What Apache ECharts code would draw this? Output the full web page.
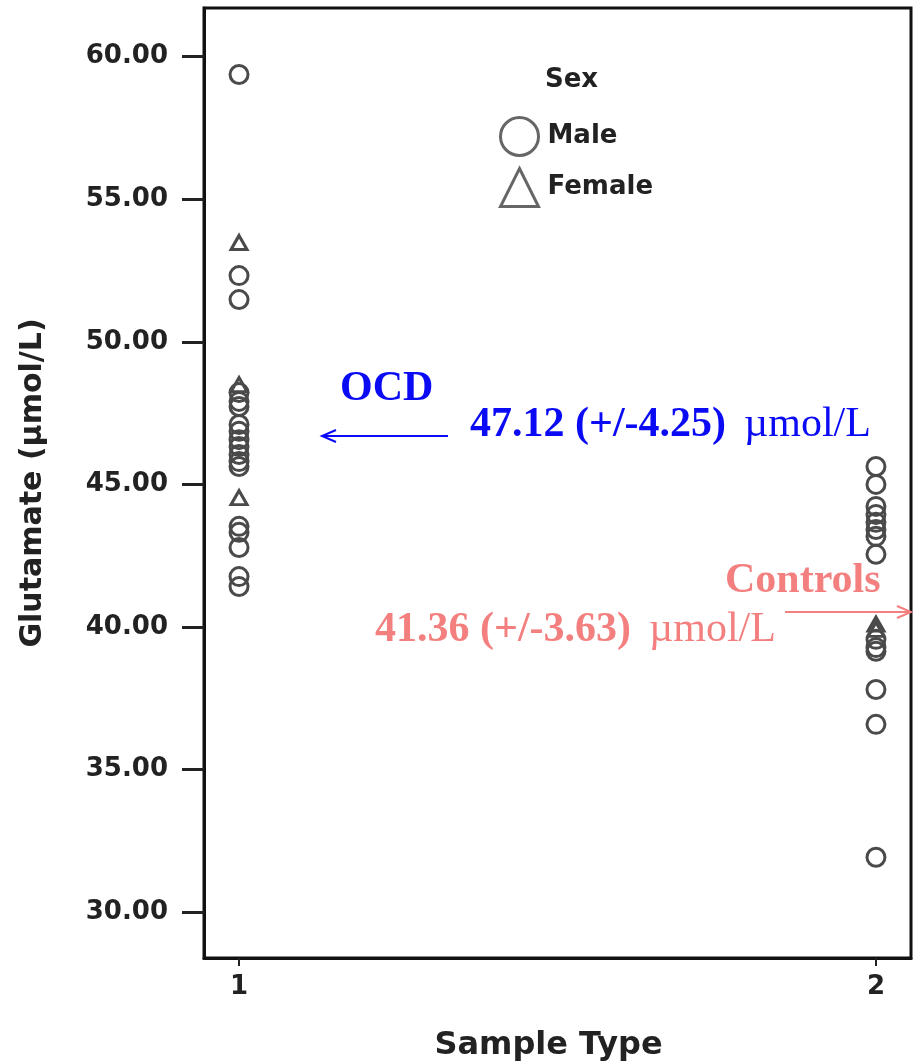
<!DOCTYPE html>
<html>
<head>
<meta charset="utf-8">
<script src="https://cdn.jsdelivr.net/npm/echarts@6/dist/echarts.min.js"></script>
<style>
	html, body { margin: 0; padding: 0; background: #fff; }
	#main { width: 916px; height: 1063px; }
</style>
</head>
<body>
<div id="main"></div>
<script>
// 数据
var sampleTypes = [1, 2];
var yTicks = [30, 35, 40, 45, 50, 55, 60];
var ocdMale = [59.37, 52.32, 51.48, 48.22, 47.91, 47.73, 47.10, 46.86, 46.57, 46.33, 46.05, 45.80, 45.63, 43.53, 43.32, 42.79, 41.77, 41.42];
var ocdFemale = [53.48, 48.50, 44.54];
var ctrlMale = [45.63, 45.00, 44.23, 43.95, 43.67, 43.42, 43.18, 42.55, 39.57, 39.28, 39.15, 37.81, 36.59, 31.93];
var ctrlFemale = [40.10, 39.92];

function toPoints(x, arr) {
	return arr.map(function(v) { return [x, v]; });
}

var myChart = echarts.init(document.getElementById('main'));
var sans = 'DejaVu Sans';
var serif = 'Liberation Serif';
var gray = '#4a4a4a';
var blue = '#0a0af5';
var pink = '#f37f7f';

var option = {
	animation: false,
	backgroundColor: '#fff',
	grid: {
		left: 204,
		right: 5,
		top: 8,
		bottom: 105,
		outerBoundsMode: 'none',
		containLabel: false,
		show: true,
		borderColor: '#111',
		borderWidth: 3
	},
	legend: {
		orient: 'vertical',
		left: 494,
		top: 111,
		itemWidth: 38,
		itemHeight: 38,
		itemGap: 10,
		textStyle: { fontFamily: sans, fontWeight: 'bold', fontSize: 26, color: '#222', padding: [0, 0, 0, 4] },
		data: [{
				name: 'Male',
				icon: 'circle',
				itemStyle: { color: 'transparent', borderColor: '#666', borderWidth: 3, opacity: 1 }
			},
			{
				name: 'Female',
				icon: 'triangle',
				itemStyle: { color: 'transparent', borderColor: '#666', borderWidth: 3, opacity: 1 }
			}
		]
	},
	xAxis: {
		type: 'value',
		min: 0.945,
		max: 2.055,
		name: 'Sample Type',
		nameLocation: 'middle',
		nameGap: 72,
		nameTextStyle: { fontFamily: sans, fontWeight: 'bold', fontSize: 32, color: '#222', padding: [0, 18, 0, 0] },
		splitLine: { show: false },
		axisLine: { show: true, lineStyle: { color: '#111', width: 3 } },
		axisTick: { show: true, length: 8, lineStyle: { color: '#222', width: 2 }, customValues: sampleTypes },
		axisLabel: {
			customValues: sampleTypes,
			margin: 16,
			fontFamily: sans,
			fontWeight: 'bold',
			fontSize: 26,
			color: '#222'
		}
	},
	yAxis: {
		type: 'value',
		min: 28.4,
		max: 61.7,
		name: 'Glutamate (µmol/L)',
		nameLocation: 'middle',
		nameGap: 156,
		nameRotate: 90,
		nameTextStyle: { fontFamily: sans, fontWeight: 'bold', fontSize: 30, color: '#222' },
		splitLine: { show: false },
		axisLine: { show: true, lineStyle: { color: '#111', width: 3 } },
		axisTick: { show: true, length: 22, lineStyle: { color: '#222', width: 3 }, customValues: yTicks },
		axisLabel: {
			customValues: yTicks,
			margin: 36,
			fontFamily: sans,
			fontWeight: 'bold',
			fontSize: 26,
			color: '#222',
			formatter: function(v) { return v.toFixed(2); }
		}
	},
	series: [{
			name: 'Male',
			type: 'scatter',
			symbol: 'circle',
			symbolSize: 18,
			itemStyle: { color: 'transparent', borderColor: gray, borderWidth: 3, opacity: 1 },
			data: toPoints(sampleTypes[0], ocdMale).concat(toPoints(sampleTypes[1], ctrlMale))
		},
		{
			name: 'Female',
			type: 'scatter',
			symbol: 'triangle',
			symbolSize: [16, 14],
			itemStyle: { color: 'transparent', borderColor: gray, borderWidth: 3, opacity: 1 },
			data: toPoints(sampleTypes[0], ocdFemale).concat(toPoints(sampleTypes[1], ctrlFemale))
		}
	],
	graphic: [{
			type: 'text',
			left: 545,
			top: 67,
			style: { text: 'Sex', fontFamily: sans, fontWeight: 'bold', fontSize: 26, fill: '#222' }
		},
		// OCD 标注
		{
			type: 'text',
			left: 340,
			top: 368,
			style: { text: 'OCD', fontFamily: serif, fontWeight: 'bold', fontSize: 42, fill: blue }
		},
		{
			type: 'text',
			left: 470,
			top: 404,
			style: {
				text: '{b|47.12 (+/-4.25)}{s| }{n|µmol/L}',
				rich: {
					b: { fontFamily: serif, fontWeight: 'bold', fontSize: 42, fill: blue, color: blue },
					s: { fontFamily: serif, fontSize: 42, width: 18 },
					n: { fontFamily: serif, fontSize: 42, fill: blue, color: blue }
				}
			}
		},
		{
			type: 'line',
			shape: { x1: 448, y1: 436, x2: 324, y2: 436 },
			style: { stroke: blue, lineWidth: 2 }
		},
		{
			type: 'polyline',
			shape: { points: [[336, 430], [322, 436], [336, 442]] },
			style: { stroke: blue, lineWidth: 2, fill: null }
		},
		// Controls 标注
		{
			type: 'text',
			left: 725,
			top: 560,
			style: { text: 'Controls', fontFamily: serif, fontWeight: 'bold', fontSize: 42, fill: pink }
		},
		{
			type: 'text',
			left: 375,
			top: 609,
			style: {
				text: '{b|41.36 (+/-3.63)}{s| }{n|µmol/L}',
				rich: {
					b: { fontFamily: serif, fontWeight: 'bold', fontSize: 42, fill: pink, color: pink },
					s: { fontFamily: serif, fontSize: 42, width: 18 },
					n: { fontFamily: serif, fontSize: 42, fill: pink, color: pink }
				}
			}
		},
		{
			type: 'line',
			shape: { x1: 785, y1: 612, x2: 910, y2: 612 },
			style: { stroke: pink, lineWidth: 2 }
		},
		{
			type: 'polyline',
			shape: { points: [[897, 606], [911, 612], [897, 618]] },
			style: { stroke: pink, lineWidth: 2, fill: null }
		}
	]
};
myChart.setOption(option);
</script>
</body>
</html>
